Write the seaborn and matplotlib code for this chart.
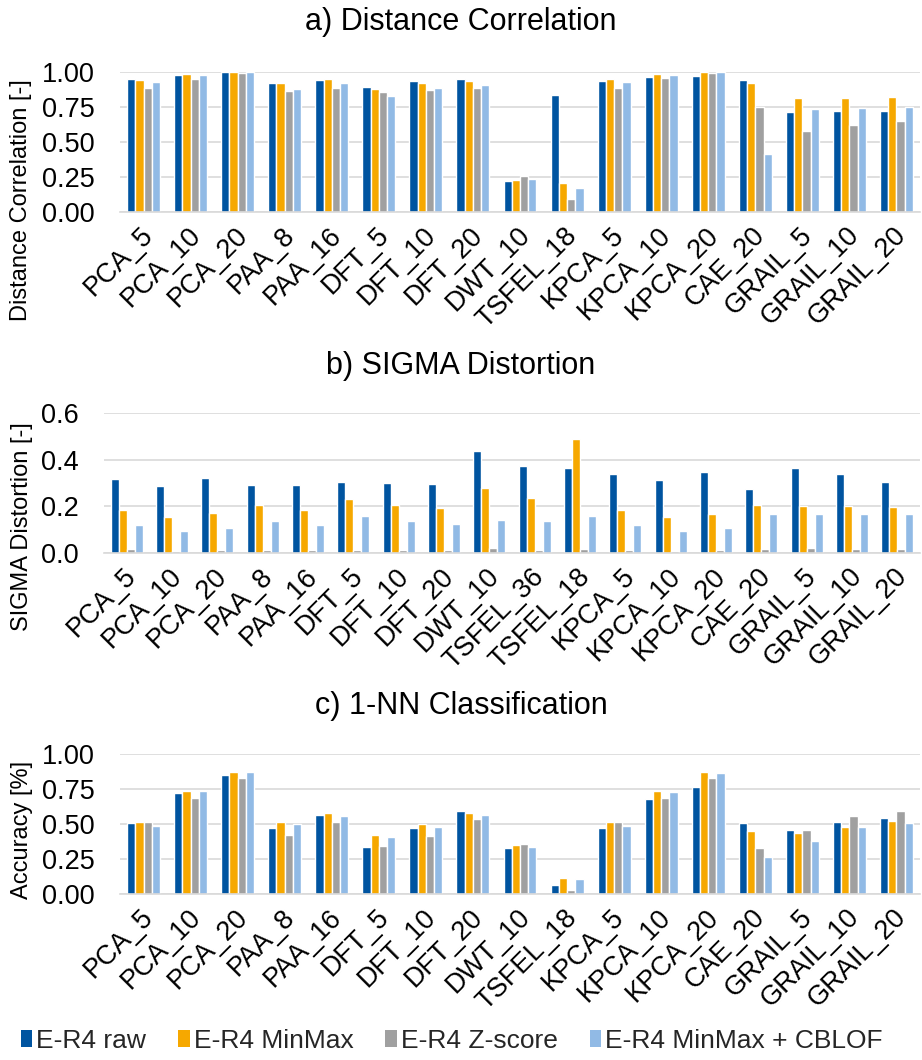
import matplotlib
matplotlib.use("Agg")
import matplotlib.pyplot as plt
from matplotlib.patches import Patch
from matplotlib.ticker import FormatStrFormatter
from matplotlib.transforms import ScaledTranslation
import pandas as pd
import seaborn as sns

# ---- data -----------------------------------------------------------------
variants = ["E-R4 raw", "E-R4 MinMax", "E-R4 Z-score", "E-R4 MinMax + CBLOF"]
colors = ["#0054A0", "#F6A800", "#A0A0A0", "#91BAE5"]

methods_ac = ["PCA_5", "PCA_10", "PCA_20", "PAA_8", "PAA_16", "DFT_5", "DFT_10",
              "DFT_20", "DWT_10", "TSFEL_18", "KPCA_5", "KPCA_10", "KPCA_20",
              "CAE_20", "GRAIL_5", "GRAIL_10", "GRAIL_20"]
methods_b = ["PCA_5", "PCA_10", "PCA_20", "PAA_8", "PAA_16", "DFT_5", "DFT_10",
             "DFT_20", "DWT_10", "TSFEL_36", "TSFEL_18", "KPCA_5", "KPCA_10",
             "KPCA_20", "CAE_20", "GRAIL_5", "GRAIL_10", "GRAIL_20"]

# a) distance correlation
dc_raw    = [0.950, 0.981, 0.998, 0.919, 0.945, 0.895, 0.936, 0.948, 0.221, 0.836,
             0.938, 0.962, 0.974, 0.945, 0.712, 0.724, 0.724]
dc_minmax = [0.945, 0.983, 0.998, 0.919, 0.948, 0.881, 0.919, 0.938, 0.231, 0.210,
             0.948, 0.983, 0.998, 0.919, 0.814, 0.814, 0.819]
dc_zscore = [0.883, 0.952, 0.995, 0.867, 0.883, 0.855, 0.869, 0.888, 0.255, 0.093,
             0.883, 0.955, 0.995, 0.748, 0.576, 0.624, 0.648]
dc_cblof  = [0.926, 0.976, 0.998, 0.881, 0.924, 0.831, 0.883, 0.910, 0.238, 0.174,
             0.926, 0.976, 0.998, 0.414, 0.738, 0.743, 0.748]

# b) SIGMA distortion
sd_raw    = [0.317, 0.287, 0.320, 0.291, 0.290, 0.306, 0.300, 0.297, 0.439, 0.371,
             0.366, 0.340, 0.311, 0.347, 0.273, 0.364, 0.337, 0.304]
sd_minmax = [0.183, 0.154, 0.170, 0.206, 0.183, 0.230, 0.206, 0.191, 0.277, 0.234,
             0.489, 0.183, 0.154, 0.167, 0.206, 0.201, 0.200, 0.199]
sd_zscore = [0.016, 0.010, 0.013, 0.013, 0.013, 0.013, 0.013, 0.013, 0.020, 0.013,
             0.016, 0.013, 0.010, 0.013, 0.017, 0.021, 0.017, 0.017]
sd_cblof  = [0.119, 0.096, 0.109, 0.137, 0.120, 0.157, 0.136, 0.126, 0.141, 0.137,
             0.159, 0.120, 0.096, 0.109, 0.167, 0.167, 0.166, 0.167]

# c) 1-NN classification accuracy
acc_raw    = [0.507, 0.724, 0.850, 0.471, 0.564, 0.333, 0.474, 0.590, 0.331, 0.067,
              0.474, 0.681, 0.762, 0.507, 0.457, 0.514, 0.540]
acc_minmax = [0.514, 0.736, 0.869, 0.514, 0.576, 0.421, 0.498, 0.579, 0.348, 0.112,
              0.514, 0.736, 0.869, 0.448, 0.433, 0.479, 0.519]
acc_zscore = [0.512, 0.688, 0.831, 0.421, 0.514, 0.343, 0.412, 0.538, 0.360, 0.029,
              0.514, 0.688, 0.829, 0.326, 0.457, 0.555, 0.590]
acc_cblof  = [0.486, 0.733, 0.869, 0.498, 0.557, 0.405, 0.479, 0.564, 0.336, 0.107,
              0.488, 0.729, 0.864, 0.262, 0.379, 0.479, 0.505]


def long_frame(methods, series):
    rows = []
    for name, vals in zip(variants, series):
        for m, v in zip(methods, vals):
            rows.append({"method": m, "variant": name, "value": v})
    return pd.DataFrame(rows)


# ---- styling --------------------------------------------------------------
sns.set_theme(style="white")
plt.rcParams["font.family"] = ["Liberation Sans", "DejaVu Sans"]

W, H = 922, 1060
fig = plt.figure(figsize=(W / 100, H / 100), dpi=100)


def px_axes(x0, x1, y0, y1):
    return fig.add_axes([x0 / W, 1 - y1 / H, (x1 - x0) / W, (y1 - y0) / H])


panels = [
    dict(box=(120, 920, 72, 212), methods=methods_ac,
         series=[dc_raw, dc_minmax, dc_zscore, dc_cblof],
         ylim=1.0, ticks=[0, 0.25, 0.5, 0.75, 1.0], fmt="%.2f",
         ylabel="Distance Correlation [-]", title="a) Distance Correlation",
         title_y=22, lab=(-0.11, 0.086)),
    dict(box=(104, 920, 413, 553), methods=methods_b,
         series=[sd_raw, sd_minmax, sd_zscore, sd_cblof],
         ylim=0.6, ticks=[0, 0.2, 0.4, 0.6], fmt="%.1f",
         ylabel="SIGMA Distortion [-]", title="b) SIGMA Distortion",
         title_y=366, lab=(-0.087, 0.19)),
    dict(box=(120, 920, 754, 894), methods=methods_ac,
         series=[acc_raw, acc_minmax, acc_zscore, acc_cblof],
         ylim=1.0, ticks=[0, 0.25, 0.5, 0.75, 1.0], fmt="%.2f",
         ylabel="Accuracy [%]", title="c) 1-NN Classification",
         title_y=706, lab=(-0.109, 0.457)),
]

label_shift = ScaledTranslation(6 / 100, 0, fig.dpi_scale_trans)

for p in panels:
    ax = px_axes(*p["box"])
    df = long_frame(p["methods"], p["series"])
    sns.barplot(data=df, x="method", y="value", hue="variant",
                hue_order=variants, order=p["methods"], palette=colors,
                saturation=1, width=0.7, edgecolor="white", linewidth=1.0,
                legend=False, ax=ax)
    ax.set_ylim(0, p["ylim"])
    ax.set_xlim(-0.5, len(p["methods"]) - 0.5)
    ax.set_yticks(p["ticks"])
    ax.yaxis.set_major_formatter(FormatStrFormatter(p["fmt"]))
    ax.grid(axis="y", color="#D9D9D9", linewidth=1.2)
    ax.grid(axis="x", visible=False)
    ax.set_axisbelow(True)
    for side in ["top", "right", "left"]:
        ax.spines[side].set_visible(False)
    ax.spines["bottom"].set_color("#D9D9D9")
    ax.spines["bottom"].set_linewidth(1.2)
    ax.tick_params(axis="both", length=0, labelsize=19.5, colors="black")
    ax.tick_params(axis="y", pad=18)
    ax.tick_params(axis="x", pad=14)
    for lbl in ax.get_xticklabels():
        lbl.set_rotation(45)
        lbl.set_ha("right")
        lbl.set_va("center")
        lbl.set_rotation_mode("anchor")
        lbl.set_transform(lbl.get_transform() + label_shift)
    ax.set_xlabel("")
    ax.set_ylabel(p["ylabel"], fontsize=17, color="black")
    ax.yaxis.set_label_coords(*p["lab"])
    fig.text(0.5, 1 - p["title_y"] / H, p["title"], ha="center", va="center",
             fontsize=22, color="black")

handles = [Patch(facecolor=c, edgecolor="none") for c in colors]
fig.legend(handles, variants, loc="center", ncol=4, frameon=False,
           bbox_to_anchor=(0.49, 1 - 1041 / H), fontsize=19,
           handlelength=0.45, handleheight=0.6, handletextpad=0.15,
           columnspacing=1.2)

fig.savefig("out.png", dpi=100)
